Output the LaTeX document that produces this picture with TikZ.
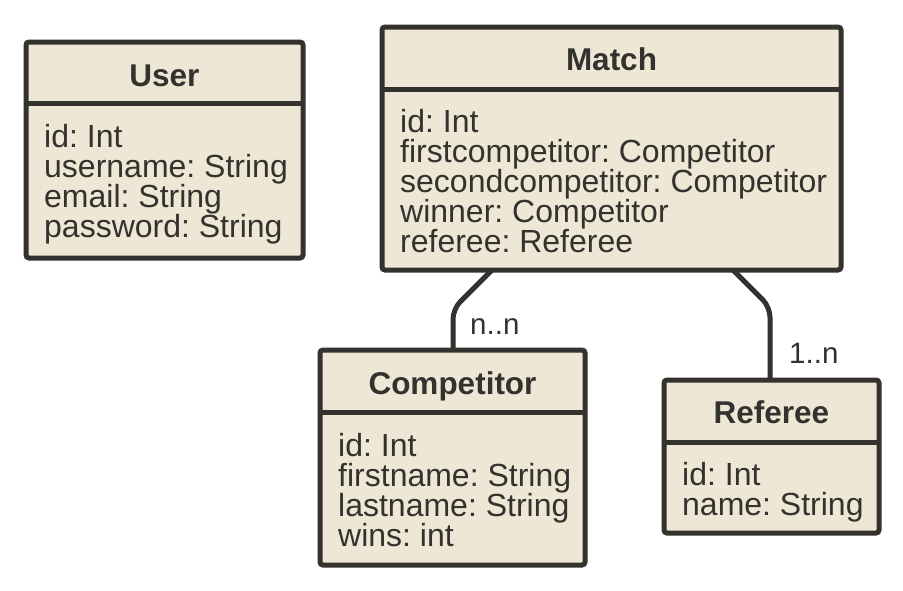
\documentclass[tikz,border=0pt]{standalone}
\usepackage{fontspec}
\setmainfont{Liberation Sans}
\frenchspacing
\definecolor{boxfill}{HTML}{EEE7D6}
\definecolor{ink}{HTML}{33322E}
\tikzset{
  classbox/.style={draw=ink, fill=boxfill, line width=5pt, rounded corners=3pt, inner sep=0pt, outer sep=0pt, anchor=north west},
  divider/.style={draw=ink, line width=5pt},
  title/.style={font=\fontsize{31.5}{30}\selectfont\bfseries, text=ink, anchor=base, inner sep=0pt},
  attr/.style={font=\fontsize{32}{30}\selectfont\frenchspacing, text=ink, anchor=base west, inner sep=0pt},
  link/.style={draw=ink, line width=5pt, rounded corners=10pt},
  mult/.style={font=\fontsize{29.5}{30}\selectfont, text=ink, anchor=base west, inner sep=0pt},
}
\begin{document}
\begin{tikzpicture}[x=1pt,y=-1pt]
\useasboundingbox[fill=white] (0,0) rectangle (903,590);

% User
\node[classbox, minimum width=277pt, minimum height=216pt] (user) at (26,42) {};
\draw[divider] (user.west |- 0,103) -- (user.east |- 0,103);
\node[title] (usert) at (164.5,86) {User};
\foreach \t [count=\i] in {id: Int, username: String, email: String, password: String}
  \node[attr] (user-\i) at (44,{117+30*\i}) {\t};

% Match
\node[classbox, minimum width=459pt, minimum height=243pt] (match) at (382,27) {};
\draw[divider] (match.west |- 0,89) -- (match.east |- 0,89);
\node[title] (matcht) at (611.5,70) {Match};
\foreach \t [count=\i] in {id: Int, firstcompetitor: Competitor, secondcompetitor: Competitor, winner: Competitor, referee: Referee}
  \node[attr] (match-\i) at (400,{102+30*\i}) {\t};

% Competitor
\node[classbox, minimum width=265pt, minimum height=215pt] (comp) at (320,350) {};
\draw[divider] (comp.west |- 0,412) -- (comp.east |- 0,412);
\node[title] (compt) at (452.5,394) {Competitor};
\foreach \t [count=\i] in {id: Int, firstname: String, lastname: String, wins: int}
  \node[attr] (comp-\i) at (338,{426+30*\i}) {\t};

% Referee
\node[classbox, minimum width=215pt, minimum height=153pt] (ref) at (664,380) {};
\draw[divider] (ref.west |- 0,442) -- (ref.east |- 0,442);
\node[title] (reft) at (771.5,423) {Referee};
\foreach \t [count=\i] in {id: Int, name: String}
  \node[attr] (ref-\i) at (682,{455+30*\i}) {\t};

% Connectors
\coordinate (c1) at (453,309);
\coordinate (c2) at (770,307);
\draw[link] ([xshift=110pt]match.south west) -- (c1) -- ([xshift=133pt]comp.north west);
\draw[link] ([xshift=351pt]match.south west) -- (c2) -- ([xshift=106pt]ref.north west);
\node[mult] (m1) at (470,334) {n..n};
\node[mult] (m2) at (789,363) {1..n};
\end{tikzpicture}
\end{document}
